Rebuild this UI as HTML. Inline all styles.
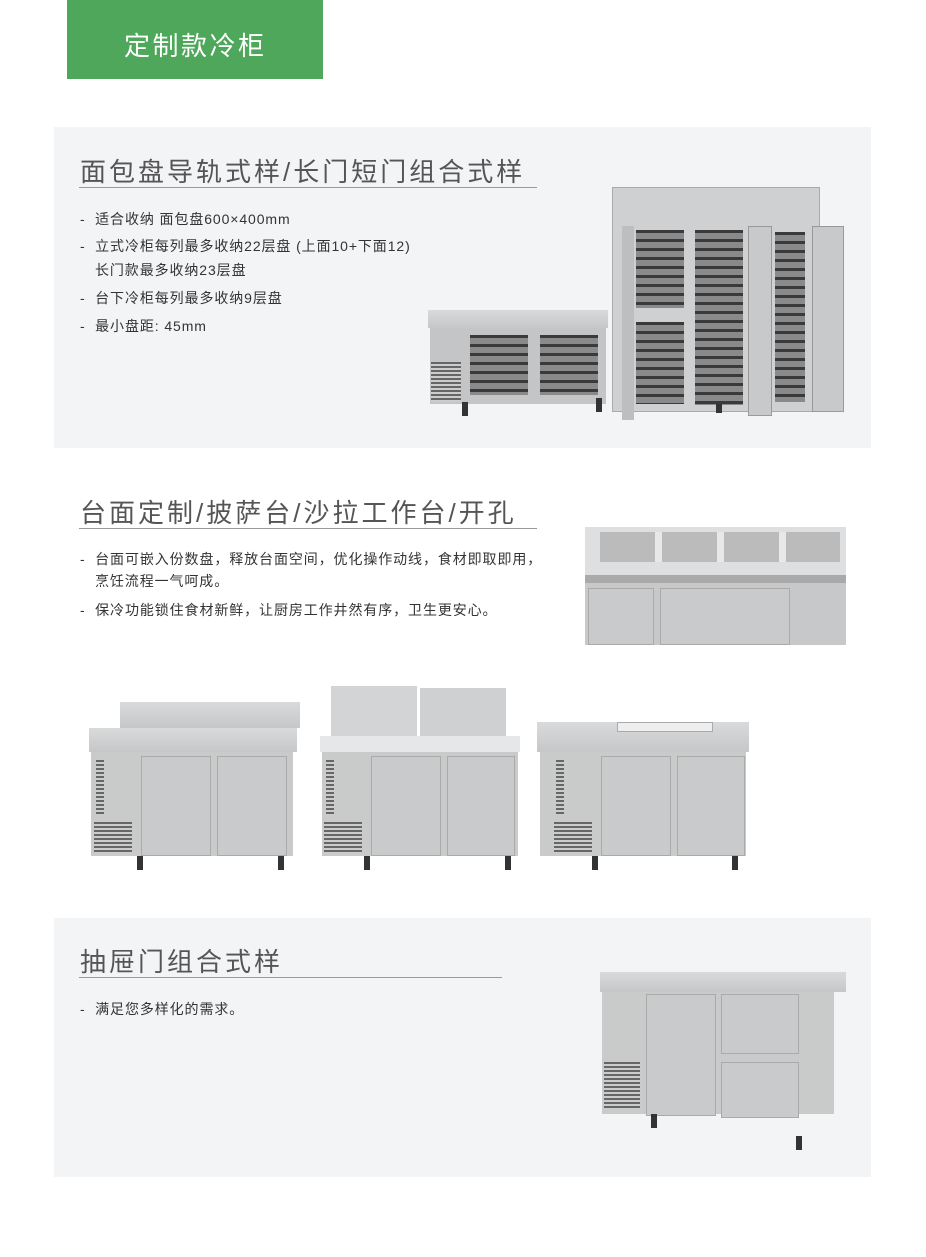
<!DOCTYPE html>
<html><head><meta charset="utf-8"><style>
*{margin:0;padding:0;box-sizing:border-box}
body{width:926px;height:1257px;background:#fff;position:relative;overflow:hidden;font-family:"Liberation Sans","Noto Sans CJK SC",sans-serif;color:#333}
.a{position:absolute}
.bg{background:#f3f4f6}
.t{font-size:26px;color:#555;letter-spacing:3px;white-space:nowrap;line-height:30px}
.ul{height:1px;background:#999}
.b{font-size:14px;color:#333;white-space:nowrap;line-height:16px;letter-spacing:0.9px}
.steel{background:linear-gradient(#d9dadb,#c6c7c8)}
.door{background:#c9cacb;border:1px solid #aaa}
.leg{background:#333;width:6px;height:14px}
.vent{background:repeating-linear-gradient(#666 0 2px,#ccc 2px 4px)}
.dark{background:repeating-linear-gradient(#3a3a3a 0 3px,#8a8a8a 3px 9px)}
</style></head><body>
<div class="a" style="left:67px;top:0;width:256px;height:79px;background:#4ea75a"></div>
<div class="a" style="left:124px;top:31px;font-size:26px;color:#fff;letter-spacing:2.5px;line-height:30px">定制款冷柜</div>

<div class="a bg" style="left:54px;top:127px;width:817px;height:321px"></div>
<div class="a t" style="left:80px;top:157px">面包盘导轨式样/长门短门组合式样</div>
<div class="a ul" style="left:79px;top:187px;width:458px"></div>
<div class="a b" style="left:80px;top:211px">-&nbsp; 适合收纳 面包盘600×400mm</div>
<div class="a b" style="left:80px;top:238px">-&nbsp; 立式冷柜每列最多收纳22层盘 (上面10+下面12)</div>
<div class="a b" style="left:95px;top:262px">长门款最多收纳23层盘</div>
<div class="a b" style="left:80px;top:290px">-&nbsp; 台下冷柜每列最多收纳9层盘</div>
<div class="a b" style="left:80px;top:318px">-&nbsp; 最小盘距: 45mm</div>

<div class="a steel" style="left:428px;top:310px;width:180px;height:18px"></div>
<div class="a" style="left:430px;top:328px;width:176px;height:76px;background:#c4c5c6"></div>
<div class="a vent" style="left:431px;top:362px;width:30px;height:40px"></div>
<div class="a dark" style="left:470px;top:335px;width:58px;height:60px"></div>
<div class="a dark" style="left:540px;top:335px;width:58px;height:60px"></div>
<div class="a leg" style="left:462px;top:402px"></div><div class="a leg" style="left:596px;top:398px"></div>
<div class="a" style="left:612px;top:187px;width:208px;height:225px;background:#cfd0d1;border:1px solid #aaa"></div>
<div class="a dark" style="left:636px;top:230px;width:48px;height:78px"></div>
<div class="a dark" style="left:636px;top:322px;width:48px;height:82px"></div>
<div class="a dark" style="left:695px;top:230px;width:48px;height:175px"></div>
<div class="a dark" style="left:775px;top:232px;width:30px;height:170px"></div>
<div class="a" style="left:622px;top:226px;width:12px;height:194px;background:#bdbebf"></div>
<div class="a" style="left:748px;top:226px;width:24px;height:190px;background:#c8c9ca;border:1px solid #999"></div>
<div class="a" style="left:812px;top:226px;width:32px;height:186px;background:#c8c9ca;border:1px solid #999"></div>
<div class="a leg" style="left:716px;top:404px;height:9px"></div>

<div class="a t" style="left:80px;top:498px">台面定制/披萨台/沙拉工作台/开孔</div>
<div class="a ul" style="left:79px;top:528px;width:458px"></div>
<div class="a b" style="left:80px;top:551px">-&nbsp; 台面可嵌入份数盘，释放台面空间，优化操作动线，食材即取即用，</div>
<div class="a b" style="left:95px;top:573px">烹饪流程一气呵成。</div>
<div class="a b" style="left:80px;top:602px">-&nbsp; 保冷功能锁住食材新鲜，让厨房工作井然有序，卫生更安心。</div>
<div class="a" style="left:585px;top:527px;width:261px;height:118px;background:#c7c8c9"></div>
<div class="a" style="left:585px;top:527px;width:261px;height:48px;background:#dedfe0"></div>
<div class="a" style="left:600px;top:532px;width:240px;height:30px;background:repeating-linear-gradient(90deg,#bbb 0 55px,#e8e8e8 55px 62px)"></div>
<div class="a" style="left:585px;top:575px;width:261px;height:8px;background:#aaa"></div>
<div class="a door" style="left:588px;top:588px;width:66px;height:57px"></div>
<div class="a door" style="left:660px;top:588px;width:130px;height:57px"></div>

<div class="a steel" style="left:120px;top:702px;width:180px;height:26px"></div>
<div class="a steel" style="left:89px;top:728px;width:208px;height:24px"></div>
<div class="a" style="left:91px;top:752px;width:202px;height:104px;background:#c9caca"></div>
<div class="a vent" style="left:96px;top:760px;width:8px;height:55px"></div>
<div class="a vent" style="left:94px;top:822px;width:38px;height:32px"></div>
<div class="a door" style="left:141px;top:756px;width:70px;height:100px"></div>
<div class="a door" style="left:217px;top:756px;width:70px;height:100px"></div>
<div class="a leg" style="left:137px;top:856px"></div><div class="a leg" style="left:278px;top:856px"></div>

<div class="a" style="left:331px;top:686px;width:86px;height:50px;background:#d3d4d5"></div>
<div class="a" style="left:420px;top:688px;width:86px;height:48px;background:#cfd0d1"></div>
<div class="a" style="left:320px;top:736px;width:200px;height:16px;background:#e6e7e8"></div>
<div class="a" style="left:322px;top:752px;width:196px;height:104px;background:#c9caca"></div>
<div class="a vent" style="left:326px;top:760px;width:8px;height:55px"></div>
<div class="a vent" style="left:324px;top:822px;width:38px;height:32px"></div>
<div class="a door" style="left:371px;top:756px;width:70px;height:100px"></div>
<div class="a door" style="left:447px;top:756px;width:68px;height:100px"></div>
<div class="a leg" style="left:364px;top:856px"></div><div class="a leg" style="left:505px;top:856px"></div>

<div class="a steel" style="left:537px;top:722px;width:212px;height:30px"></div>
<div class="a" style="left:617px;top:722px;width:96px;height:10px;background:#eee;border:1px solid #aaa"></div>
<div class="a" style="left:540px;top:752px;width:206px;height:104px;background:#c9caca"></div>
<div class="a vent" style="left:556px;top:760px;width:8px;height:55px"></div>
<div class="a vent" style="left:554px;top:822px;width:38px;height:32px"></div>
<div class="a door" style="left:601px;top:756px;width:70px;height:100px"></div>
<div class="a door" style="left:677px;top:756px;width:68px;height:100px"></div>
<div class="a leg" style="left:592px;top:856px"></div><div class="a leg" style="left:732px;top:856px"></div>

<div class="a bg" style="left:54px;top:918px;width:817px;height:259px"></div>
<div class="a t" style="left:80px;top:947px">抽屉门组合式样</div>
<div class="a ul" style="left:79px;top:977px;width:423px"></div>
<div class="a b" style="left:80px;top:1001px">-&nbsp; 满足您多样化的需求。</div>
<div class="a steel" style="left:600px;top:972px;width:246px;height:20px"></div>
<div class="a" style="left:602px;top:992px;width:232px;height:122px;background:#c9caca"></div>
<div class="a vent" style="left:604px;top:1062px;width:36px;height:48px"></div>
<div class="a door" style="left:646px;top:994px;width:70px;height:122px"></div>
<div class="a door" style="left:721px;top:994px;width:78px;height:60px"></div>
<div class="a door" style="left:721px;top:1062px;width:78px;height:56px"></div>
<div class="a leg" style="left:651px;top:1114px"></div><div class="a leg" style="left:796px;top:1136px"></div>
</body></html>
